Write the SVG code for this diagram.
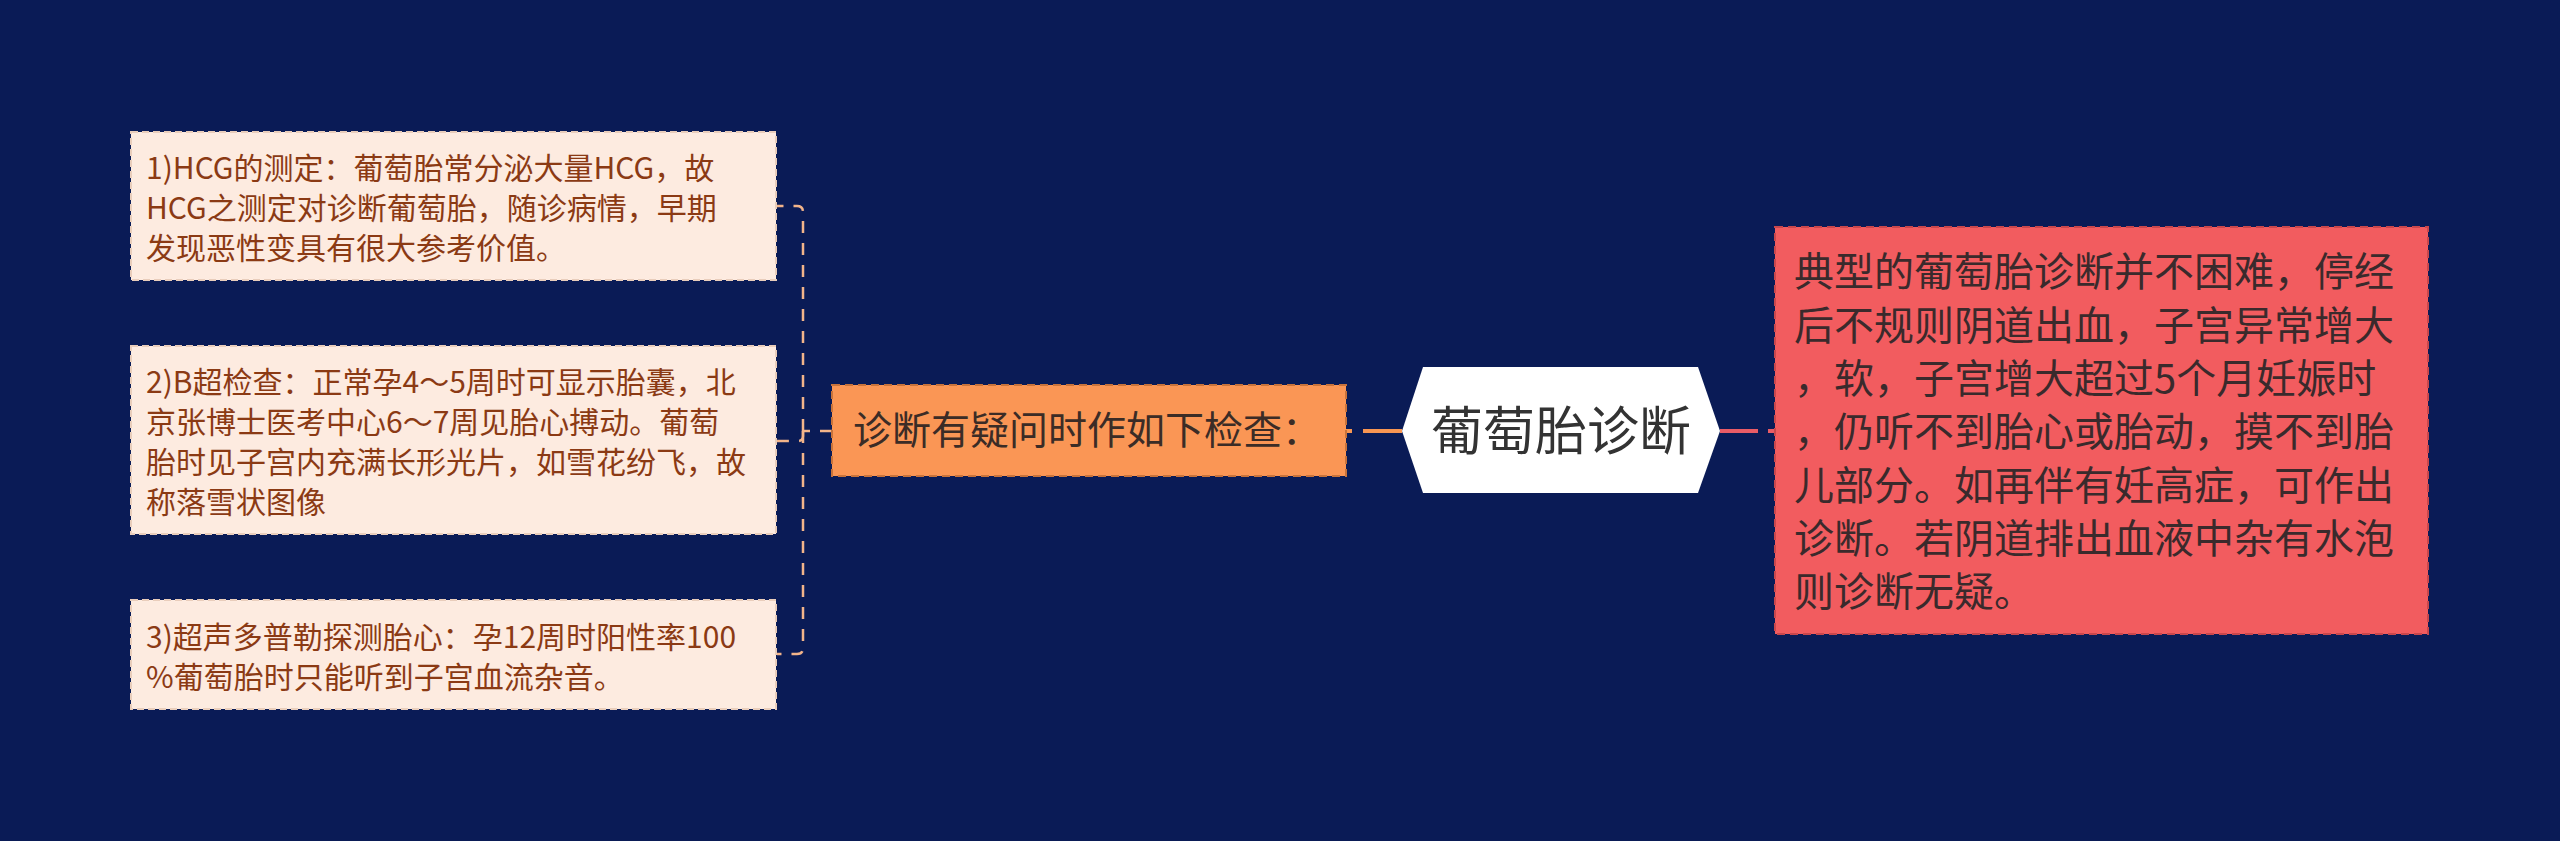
<svg xmlns="http://www.w3.org/2000/svg" width="2560" height="841" viewBox="0 0 2560 841">
<style>
  .bg { fill: #0A1B56; }
  .leaf rect { fill: #FDEBE0; stroke: #E9CDBB; stroke-width: 2; stroke-dasharray: 7 4; }
  .leaf text { font-family: "Noto Sans CJK SC", "Liberation Sans", sans-serif; font-size: 30px; fill: #8B3A14; }
  .sub rect { fill: #FA9655; stroke: #C8733B; stroke-width: 2; stroke-dasharray: 8 5; }
  .sub text { font-family: "Noto Sans CJK SC", "Liberation Sans", sans-serif; font-size: 39px; fill: #3B2C26; }
  .root polygon { fill: #FFFFFF; }
  .root text { font-family: "Noto Sans CJK SC", "Liberation Sans", sans-serif; font-size: 52px; fill: #333333; }
  .note rect { fill: #F25C5F; stroke: #C9474C; stroke-width: 2; stroke-dasharray: 8 5; }
  .note text { font-family: "Noto Sans CJK SC", "Liberation Sans", sans-serif; font-size: 40px; fill: #3A2A2C; }
  .tree { fill: none; stroke: #F2B48A; stroke-width: 2.5; stroke-dasharray: 12 10; }
</style>
<rect class="bg" x="0" y="0" width="2560" height="841"/>

<g id="connectors">
  <path class="tree" d="M832,431 H803"/>
  <path class="tree" d="M803,431 V212 Q803,206 797,206 H777"/>
  <path class="tree" d="M803,431 V436 Q803,441 798,441 H777"/>
  <path class="tree" d="M803,431 V648 Q803,654 797,654 H777"/>
  <path d="M1402,431 H1346" fill="none" stroke="#F89652" stroke-width="4" stroke-dasharray="39 11 6 100"/>
  <path d="M1720,431 H1775" fill="none" stroke="#E95C66" stroke-width="4" stroke-dasharray="38 10 8 100"/>
</g>

<g id="node-hcg" class="leaf">
  <rect x="131" y="132" width="645" height="148"/>
  <text x="146" y="178.5">1)HCG的测定：葡萄胎常分泌大量HCG，故</text>
  <text x="146" y="218.5">HCG之测定对诊断葡萄胎，随诊病情，早期</text>
  <text x="146" y="258.5">发现恶性变具有很大参考价值。</text>
</g>

<g id="node-b" class="leaf">
  <rect x="131" y="346" width="645" height="188"/>
  <text x="146" y="393">2)B超检查：正常孕4～5周时可显示胎囊，北</text>
  <text x="146" y="433">京张博士医考中心6～7周见胎心搏动。葡萄</text>
  <text x="146" y="473">胎时见子宫内充满长形光片，如雪花纷飞，故</text>
  <text x="146" y="513">称落雪状图像</text>
</g>

<g id="node-doppler" class="leaf">
  <rect x="131" y="600" width="645" height="109"/>
  <text x="146" y="648">3)超声多普勒探测胎心：孕12周时阳性率100</text>
  <text x="146" y="688">%葡萄胎时只能听到子宫血流杂音。</text>
</g>

<g id="node-check" class="sub">
  <rect x="832" y="385" width="514" height="91"/>
  <text x="853" y="444">诊断有疑问时作如下检查：</text>
</g>

<g id="node-root" class="root">
  <polygon points="1402,431 1423,367 1698,367 1720,431 1698,493 1423,493"/>
  <text x="1561" y="450" text-anchor="middle">葡萄胎诊断</text>
</g>

<g id="node-typical" class="note">
  <rect x="1775" y="227" width="653" height="407"/>
  <text x="1794" y="286.4">典型的葡萄胎诊断并不困难，停经</text>
  <text x="1794" y="339.7">后不规则阴道出血，子宫异常增大</text>
  <text x="1794" y="393">，软，子宫增大超过5个月妊娠时</text>
  <text x="1794" y="446.4">，仍听不到胎心或胎动，摸不到胎</text>
  <text x="1794" y="499.7">儿部分。如再伴有妊高症，可作出</text>
  <text x="1794" y="553">诊断。若阴道排出血液中杂有水泡</text>
  <text x="1794" y="606.4">则诊断无疑。</text>
</g>
</svg>
